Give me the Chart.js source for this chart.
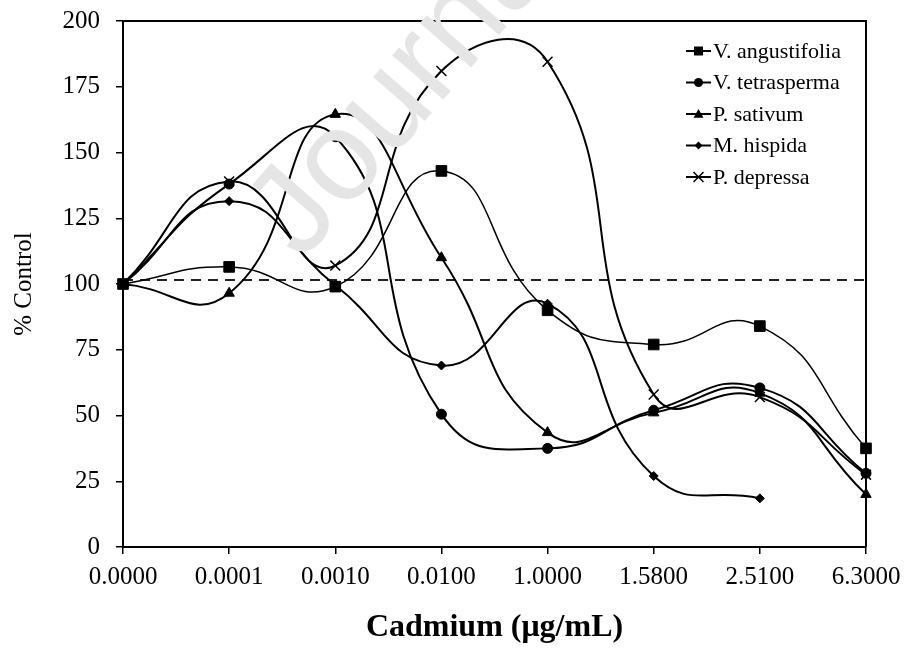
<!DOCTYPE html>
<html>
<head>
<meta charset="utf-8">
<script src="https://cdn.jsdelivr.net/npm/chart.js@4.4.1/dist/chart.umd.min.js"></script>
<style>
  html, body { margin: 0; padding: 0; background: #ffffff; }
  canvas { display: block; }
</style>
</head>
<body>
<canvas id="c" width="905" height="652"></canvas>
<script>
// ---- data ----
const categories = ['0.0000', '0.0001', '0.0010', '0.0100', '1.0000', '1.5800', '2.5100', '6.3000'];
const vAngustifolia = [100, 106.5, 99, 143, 90, 77, 84, 37.5];
const vTetrasperma  = [100, 138, 156, 50.5, 37.5, 52, 60.5, 28];
const pSativum      = [100, 96.5, 164.5, 110, 43.5, 51, 58.5, 20];
const mHispida      = [100, 131.5, 99.5, 69, 92.5, 27, 18.5, null];
const pDepressa     = [100, 139, 107, 181, 184.5, 58, 57, 27.5];
const controlLevel  = 101.5;
const seriesNames   = ['V. angustifolia', 'V. tetrasperma', 'P. sativum', 'M. hispida', 'P. depressa'];
const yTicks = { min: 0, max: 200, step: 25 };

const SERIF = '"Liberation Serif", "DejaVu Serif", "Times New Roman", serif';

function drawMarker(ctx, style, x, y, r) {
  ctx.save();
  ctx.fillStyle = '#000';
  ctx.strokeStyle = '#000';
  ctx.lineWidth = 1.5;
  ctx.beginPath();
  if (style === 'rect') {
    ctx.rect(x - r, y - r, 2 * r, 2 * r); ctx.fill();
  } else if (style === 'circle') {
    ctx.arc(x, y, r, 0, Math.PI * 2); ctx.fill();
  } else if (style === 'triangle') {
    ctx.moveTo(x, y - r); ctx.lineTo(x + r, y + r * 0.75); ctx.lineTo(x - r, y + r * 0.75); ctx.closePath(); ctx.fill();
  } else if (style === 'rectRot') {
    ctx.moveTo(x, y - r); ctx.lineTo(x + r, y); ctx.lineTo(x, y + r); ctx.lineTo(x - r, y); ctx.closePath(); ctx.fill();
  } else if (style === 'crossRot') {
    ctx.moveTo(x - r, y - r); ctx.lineTo(x + r, y + r);
    ctx.moveTo(x + r, y - r); ctx.lineTo(x - r, y + r); ctx.stroke();
  }
  ctx.restore();
}

const legendPlugin = {
  id: 'customLegend',
  afterDatasetsDraw(chart) {
    const ctx = chart.ctx;
    const markerSizes = { rect: 4.5, circle: 4.5, triangle: 5, rectRot: 4, crossRot: 5 };
    ctx.save();
    ctx.font = '22px ' + SERIF;
    ctx.textBaseline = 'middle';
    ctx.textAlign = 'left';
    ctx.fillStyle = '#000';
    chart.data.datasets.forEach((ds, i) => {
      if (ds.isControl) return;
      const y = 51 + i * 31.5;
      ctx.beginPath();
      ctx.lineWidth = 2;
      ctx.strokeStyle = '#000';
      ctx.moveTo(686, y); ctx.lineTo(711, y); ctx.stroke();
      drawMarker(ctx, ds.pointStyle, 698.5, y, markerSizes[ds.pointStyle]);
      ctx.fillText(ds.label, 713, y + 1);
    });
    ctx.restore();
  }
};

const framePlugin = {
  id: 'frame',
  afterDatasetsDraw(chart) {
    const { ctx, chartArea } = chart;
    ctx.save();
    ctx.strokeStyle = '#000';
    ctx.lineWidth = 2;
    ctx.beginPath();
    ctx.moveTo(chartArea.left, chartArea.top);
    ctx.lineTo(chartArea.right, chartArea.top);
    ctx.lineTo(chartArea.right, chartArea.bottom);
    ctx.stroke();
    ctx.restore();
  }
};

const watermarkPlugin = {
  id: 'watermark',
  afterDraw(chart) {
    const ctx = chart.ctx;
    ctx.save();
    ctx.translate(302, 262);
    ctx.rotate(-49 * Math.PI / 180);
    ctx.font = '128px "Liberation Sans", Arial, sans-serif';
    ctx.fillStyle = '#e5e5e5';
    ctx.textBaseline = 'alphabetic';
    ctx.fillText('Journal Pre-proof', 0, 0);
    ctx.restore();
  }
};

function series(label, data, style, radius, width) {
  return {
    label, data,
    borderColor: '#000', backgroundColor: '#000',
    borderWidth: width,
    pointStyle: style, pointRadius: radius, pointHoverRadius: radius,
    pointBorderColor: '#000', pointBackgroundColor: '#000',
    pointBorderWidth: style === 'crossRot' ? 1.5 : 1,
    tension: 0.5, fill: false, spanGaps: false
  };
}

const datasets = [
  series(seriesNames[0], vAngustifolia, 'rect', 7.5, 1.5),
  series(seriesNames[1], vTetrasperma, 'circle', 5, 2),
  series(seriesNames[2], pSativum, 'triangle', 6, 2),
  series(seriesNames[3], mHispida, 'rectRot', 4.5, 2),
  series(seriesNames[4], pDepressa, 'crossRot', 7, 2),
  {
    label: 'control', isControl: true,
    data: categories.map(() => controlLevel),
    borderColor: '#222', borderWidth: 2, borderDash: [10, 7],
    pointRadius: 0, tension: 0, fill: false
  }
];

new Chart(document.getElementById('c'), {
  type: 'line',
  data: { labels: categories, datasets },
  plugins: [framePlugin, legendPlugin, watermarkPlugin],
  options: {
    responsive: false,
    animation: false,
    devicePixelRatio: 1,
    layout: { padding: { top: 21, right: 39, left: 0, bottom: 0 } },
    plugins: { legend: { display: false }, tooltip: { enabled: false } },
    scales: {
      x: {
        type: 'category',
        offset: false,
        grid: { display: true, drawOnChartArea: false, drawTicks: true, tickLength: 7, color: '#000', lineWidth: 1.5, offset: false },
        border: { display: true, color: '#000', width: 2 },
        ticks: { color: '#000', font: { family: SERIF, size: 25 }, padding: 8, maxRotation: 0, autoSkip: false },
        title: { display: true, text: 'Cadmium (μg/mL)', color: '#000', font: { family: SERIF, size: 32, weight: 'bold' }, padding: { top: 0, bottom: 5 } },
        afterFit(scale) { scale.height = 105; scale.paddingLeft = 0; scale.paddingRight = 0; }
      },
      y: {
        min: yTicks.min, max: yTicks.max,
        grid: { display: true, drawOnChartArea: false, drawTicks: true, tickLength: 7, color: '#000', lineWidth: 1.5 },
        border: { display: true, color: '#000', width: 2 },
        ticks: { stepSize: yTicks.step, color: '#000', font: { family: SERIF, size: 25 }, padding: 16 },
        title: { display: true, text: '% Control', color: '#000', font: { family: SERIF, size: 25 }, padding: { top: 9, bottom: 0 } },
        afterFit(scale) { scale.width = 123; scale.paddingTop = 0; scale.paddingBottom = 0; }
      }
    }
  }
});
</script>
</body>
</html>
